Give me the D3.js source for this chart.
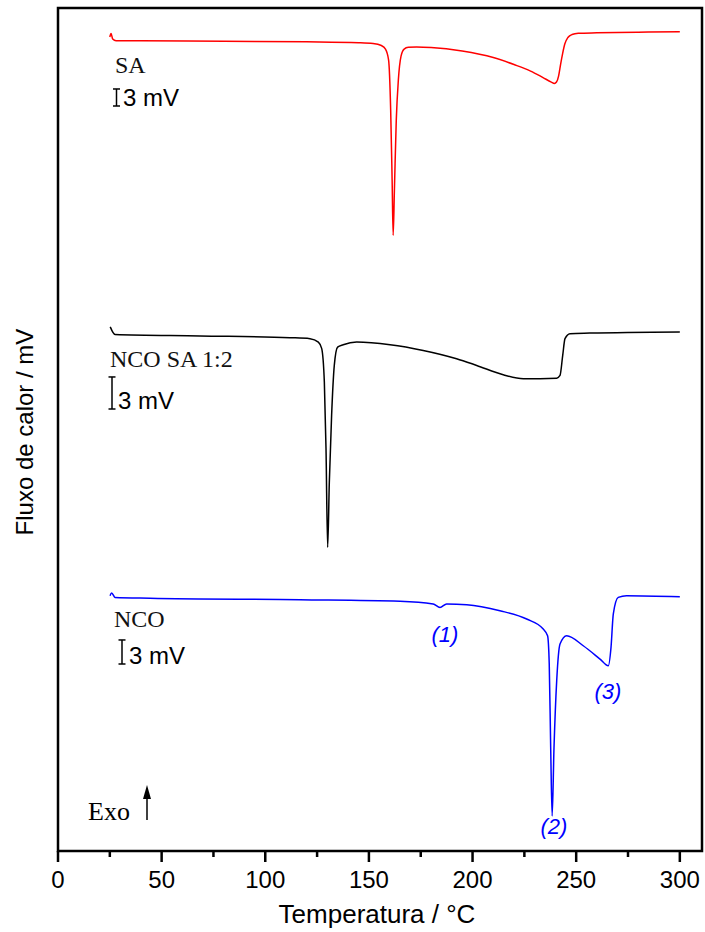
<!DOCTYPE html>
<html>
<head>
<meta charset="utf-8">
<script src="https://cdn.jsdelivr.net/npm/d3@7"></script>
<style>
  body { margin: 0; background: #fff; }
  svg { display: block; }
</style>
</head>
<body>
<div id="chart"></div>
<script>
// DSC curves, temperature (°C) vs. stacked heat-flow signal (plot units, curves offset)
const saCurve = [
  [25, 81.3], [25.6, 81.65], [26.4, 81.1], [28, 80.93], [40, 80.92], [80, 80.88],
  [120, 80.82], [145, 80.73], [152, 80.65], [156, 80.45], [158, 80.1], [159.5, 79.0],
  [160.5, 74.0], [161.2, 67.0], [161.7, 61.5], [162.3, 66.0], [163.2, 73.0], [164.2, 77.0],
  [165.5, 79.4], [167, 80.1], [169, 80.27], [173, 80.3], [180, 80.25], [195, 79.9],
  [210, 79.25], [220, 78.55], [228, 77.9], [234, 77.25], [238, 76.8], [239.5, 76.67],
  [240.5, 76.8], [241.5, 77.4], [242.5, 78.6], [243.5, 79.7], [244.5, 80.6], [246, 81.25],
  [248, 81.55], [251, 81.67], [260, 81.72], [280, 81.78], [300, 81.83]
]

const ncoSaCurve = [
  [25.2, 52.35], [27.5, 51.6], [68.5, 51.45], [111.9, 51.27], [121.6, 51.17], [125.6, 50.83],
  [127.2, 50.2], [128.5, 46.83], [129.3, 40.2], [130.1, 30.33], [130.9, 36.83], [132.0, 43.5],
  [133.3, 48.5], [134.9, 50.33], [137.6, 50.57], [144.1, 50.83], [160.2, 50.57], [176.2, 50.0],
  [192.3, 49.17], [202.0, 48.5], [214.8, 47.57], [224.5, 47.17], [240.6, 47.23], [242.2, 47.5],
  [243.5, 49.5], [244.6, 51.17], [247.0, 51.67], [256.6, 51.73], [300, 51.85]
]

const ncoCurve = [
  [25.1, 25.5], [25.9, 25.77], [27.5, 25.33], [44.4, 25.25], [116.7, 25.1], [165, 24.95],
  [181, 24.67], [184.3, 24.33], [187.5, 24.67], [197.2, 24.6], [213.2, 24.0], [226.1, 23.17],
  [234.1, 22.17], [236.2, 21.5], [237.0, 18.67], [237.7, 10.33], [238.4, 3.5], [239.3, 10.33],
  [240.6, 17.0], [242.2, 20.67], [245.4, 21.5], [253.4, 20.5], [261.5, 19.17], [265.5, 18.5],
  [266.8, 20.33], [267.9, 23.67], [270.3, 25.33], [274.3, 25.5], [300, 25.4]
]

const seriesNames = ["SA", "NCO SA 1:2", "NCO"]
const seriesColors = ["#ff0000", "#000000", "#0000ff"]
const scaleBarText = "3 mV"
const scaleBarLen = [1.7, 3.2, 2.4]   // 3 mV expressed in plot units for each curve

const peakLabels = ["(1)", "(2)", "(3)"]
const peakTemps = [186.7, 239.3, 265.3]
const peakLevels = [20.9, 1.7, 15.15]

const xMajor = [0, 50, 100, 150, 200, 250, 300]
const xMinor = [25, 75, 125, 175, 225, 275]

const width = 705
const height = 932
const margin = { top: 8, right: 3, bottom: 81, left: 58 }

const x = d3.scaleLinear()
  .domain([0, 310.7])
  .range([margin.left, width - margin.right])

const y = d3.scaleLinear()
  .domain([0, 84.2])
  .range([height - margin.bottom, margin.top])

const svg = d3.select("#chart")
  .append("svg")
  .attr("width", width)
  .attr("height", height)

const sans = "'Liberation Sans', Arial, sans-serif"
const serif = "'Liberation Serif', 'Times New Roman', serif"

// curves
const line = d3.line()
  .x(d => x(d[0]))
  .y(d => y(d[1]))
  .curve(d3.curveMonotoneX)

const curves = [saCurve, ncoSaCurve, ncoCurve]
curves.forEach((c, i) => {
  svg.append("path")
    .datum(c)
    .attr("fill", "none")
    .attr("stroke", seriesColors[i])
    .attr("stroke-width", 1.5)
    .attr("stroke-linejoin", "round")
    .attr("d", line)
})

// frame
svg.append("rect")
  .attr("x", x(0))
  .attr("y", y(84.2))
  .attr("width", x(310.7) - x(0))
  .attr("height", y(0) - y(84.2))
  .attr("fill", "none")
  .attr("stroke", "#000")
  .attr("stroke-width", 2.5)

// x axis
const xAxis = svg.append("g")
  .attr("transform", `translate(0,${y(0)})`)

xAxis.selectAll("line.major")
  .data(xMajor)
  .join("line")
  .attr("class", "major")
  .attr("x1", d => x(d)).attr("x2", d => x(d))
  .attr("y1", 0).attr("y2", 11)
  .attr("stroke", "#000")
  .attr("stroke-width", 2.5)

xAxis.selectAll("line.minor")
  .data(xMinor)
  .join("line")
  .attr("class", "minor")
  .attr("x1", d => x(d)).attr("x2", d => x(d))
  .attr("y1", 0).attr("y2", 6)
  .attr("stroke", "#000")
  .attr("stroke-width", 2.5)

xAxis.selectAll("text")
  .data(xMajor)
  .join("text")
  .attr("x", d => x(d))
  .attr("y", 37)
  .attr("text-anchor", "middle")
  .attr("font-family", sans)
  .attr("font-size", "24px")
  .attr("fill", "#000")
  .text(d => d)

svg.append("text")
  .attr("x", 377)
  .attr("y", 923)
  .attr("text-anchor", "middle")
  .attr("font-family", sans)
  .attr("font-size", "26px")
  .text("Temperatura / °C")

svg.append("text")
  .attr("transform", "translate(33,432) rotate(-90)")
  .attr("text-anchor", "middle")
  .attr("font-family", sans)
  .attr("font-size", "24px")
  .text("Fluxo de calor / mV")

// curve labels with 3 mV scale bars
const labelPos = [
  { nx: 115, ny: 73, bx: 116.5, by: 106, tx: 123 },
  { nx: 110, ny: 367, bx: 112, by: 409, tx: 118 },
  { nx: 114, ny: 627, bx: 122, by: 664, tx: 129 }
]

seriesNames.forEach((name, i) => {
  const p = labelPos[i]
  svg.append("text")
    .attr("x", p.nx)
    .attr("y", p.ny)
    .attr("font-family", serif)
    .attr("font-size", "24px")
    .attr("fill", "#111")
    .text(name)

  const len = y(0) - y(scaleBarLen[i])
  const bar = svg.append("g").attr("stroke", "#000").attr("stroke-width", 1.5)
  bar.append("line").attr("x1", p.bx).attr("x2", p.bx).attr("y1", p.by - len).attr("y2", p.by)
  bar.append("line").attr("x1", p.bx - 3.5).attr("x2", p.bx + 3.5).attr("y1", p.by - len).attr("y2", p.by - len)
  bar.append("line").attr("x1", p.bx - 3.5).attr("x2", p.bx + 3.5).attr("y1", p.by).attr("y2", p.by)

  svg.append("text")
    .attr("x", p.tx)
    .attr("y", p.by)
    .attr("font-family", sans)
    .attr("font-size", "24px")
    .attr("fill", "#000")
    .text(scaleBarText)
})

// peak annotations on the NCO curve
svg.selectAll("text.peak")
  .data(peakLabels)
  .join("text")
  .attr("class", "peak")
  .attr("x", (d, i) => x(peakTemps[i]))
  .attr("y", (d, i) => y(peakLevels[i]))
  .attr("text-anchor", "middle")
  .attr("font-family", sans)
  .attr("font-style", "italic")
  .attr("font-size", "22px")
  .attr("fill", "#0000ff")
  .text(d => d)

// Exo arrow
svg.append("text")
  .attr("x", 88)
  .attr("y", 820)
  .attr("font-family", serif)
  .attr("font-size", "26px")
  .text("Exo")

svg.append("line")
  .attr("x1", 147).attr("x2", 147)
  .attr("y1", 820).attr("y2", 795)
  .attr("stroke", "#000")
  .attr("stroke-width", 1.5)

svg.append("path")
  .attr("d", "M147,785 L143,799 L151,799 Z")
  .attr("fill", "#000")
</script>
</body>
</html>
